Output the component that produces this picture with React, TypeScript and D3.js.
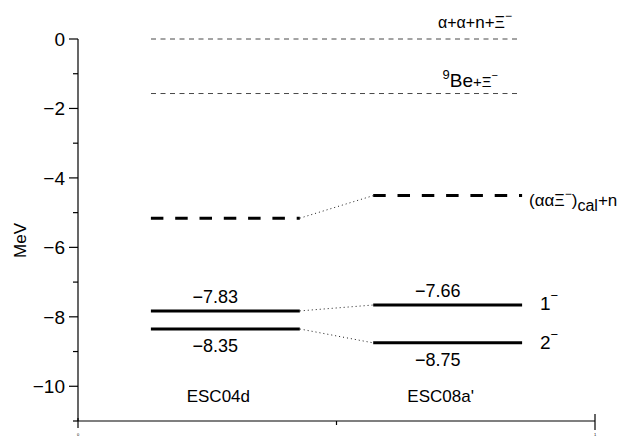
import React from "react";
import * as d3 from "d3";

const W = 623, H = 437;
const yTicks = [0, -2, -4, -6, -8, -10];
const yMinor = [-1, -3, -5, -7, -9, -11];
const models = ["ESC04d", "ESC08a'"];
const modelCenter = [0.285, 0.715];
const level1 = [-7.83, -7.66];
const level2 = [-8.35, -8.75];
const cluster = [-5.16, -4.51];
const thresholds = [0, -1.57];
const levelLabels1 = ["\u22127.83", "\u22127.66"];
const levelLabels2 = ["\u22128.35", "\u22128.75"];

export default function App() {
  const x = d3.scaleLinear().domain([0, 1]).range([78, 595]);
  const y = d3.scaleLinear().domain([-11, 0]).range([421, 39]);
  const half = 0.144;
  const font = "'Liberation Sans', Arial, sans-serif";
  const xs = (i: number) => x(modelCenter[i] - half);
  const xe = (i: number) => x(modelCenter[i] + half);
  return (
    <svg width={W} height={H} style={{ position: "absolute", left: 0, top: 0 }} fontFamily={font}>
      <rect width={W} height={H} fill="white" />
      {/* y axis */}
      <line x1={78} x2={78} y1={y(0)} y2={y(-11)} stroke="black" strokeWidth={1.2} />
      {yTicks.map((t) => (
        <g key={t}>
          <line x1={69} x2={78} y1={y(t)} y2={y(t)} stroke="black" strokeWidth={1.2} />
          <text x={65} y={y(t) + 7} fontSize={19} textAnchor="end">
            {t === 0 ? "0" : "\u2212" + Math.abs(t)}
          </text>
        </g>
      ))}
      {yMinor.map((t) => (
        <line key={t} x1={73} x2={78} y1={y(t)} y2={y(t)} stroke="black" strokeWidth={1.2} />
      ))}
      <text transform={`translate(26,${y(-5.8)}) rotate(-90)`} fontSize={17} textAnchor="middle">MeV</text>
      {/* x axis */}
      <line x1={x(0)} x2={x(1)} y1={421} y2={421} stroke="black" strokeWidth={1.2} />
      <line x1={x(0)} x2={x(0)} y1={418} y2={428} stroke="black" strokeWidth={1.2} />
      <line x1={x(0.5)} x2={x(0.5)} y1={421} y2={425} stroke="black" strokeWidth={1.2} />
      <line x1={x(1)} x2={x(1)} y1={414} y2={430} stroke="black" strokeWidth={1.2} />
      <text x={x(0)} y={436} fontSize={4} textAnchor="middle">0</text>
      <text x={x(1)} y={436} fontSize={4} textAnchor="middle">1</text>
      {/* thresholds */}
      {thresholds.map((t) => (
        <line key={t} x1={151} x2={518} y1={y(t)} y2={y(t)} stroke="#333" strokeWidth={0.9} strokeDasharray="5,4.5" />
      ))}
      <text x={512} y={28} fontSize={17} textAnchor="end">
        <tspan fontSize={16}>α+α+</tspan>n+<tspan fontSize={16}>Ξ</tspan>
        <tspan fontSize={12} dy={-8}>−</tspan>
      </text>
      <text x={498} y={87} fontSize={19} textAnchor="end">
        <tspan fontSize={13} dy={-8}>9</tspan>
        <tspan dy={8}>Be</tspan>
        <tspan fontSize={15}>+Ξ</tspan>
        <tspan fontSize={11} dy={-8}>−</tspan>
      </text>
      {/* cluster dashed */}
      {[0, 1].map((i) => (
        <line key={"c" + i} x1={xs(i)} x2={xe(i)} y1={y(cluster[i])} y2={y(cluster[i])} stroke="black" strokeWidth={3} strokeDasharray="12.5,11.8" />
      ))}
      <line x1={xe(0)} x2={xs(1)} y1={y(cluster[0])} y2={y(cluster[1])} stroke="black" strokeWidth={0.9} strokeDasharray="1,3" />
      <text x={529} y={206} fontSize={17}>
        (αα<tspan fontSize={16}>Ξ</tspan>
        <tspan fontSize={12} dy={-8}>−</tspan>
        <tspan dy={8}>)</tspan>
        <tspan fontSize={16} dy={5}>cal</tspan>
        <tspan dy={-5}>+n</tspan>
      </text>
      {/* levels */}
      {[0, 1].map((i) => (
        <g key={"l" + i}>
          <line x1={xs(i)} x2={xe(i)} y1={y(level1[i])} y2={y(level1[i])} stroke="black" strokeWidth={3} />
          <line x1={xs(i)} x2={xe(i)} y1={y(level2[i])} y2={y(level2[i])} stroke="black" strokeWidth={3} />
          <text x={(xs(i) + xe(i)) / 2 - 10} y={y(level1[i]) - 8} fontSize={18} textAnchor="middle">{levelLabels1[i]}</text>
          <text x={(xs(i) + xe(i)) / 2 - 10} y={y(level2[i]) + 23} fontSize={18} textAnchor="middle">{levelLabels2[i]}</text>
          <text x={(xs(i) + xe(i)) / 2 - 7} y={402} fontSize={17} textAnchor="middle">{models[i]}</text>
        </g>
      ))}
      <line x1={xe(0)} x2={xs(1)} y1={y(level1[0])} y2={y(level1[1])} stroke="black" strokeWidth={0.9} strokeDasharray="1,3" />
      <line x1={xe(0)} x2={xs(1)} y1={y(level2[0])} y2={y(level2[1])} stroke="black" strokeWidth={0.9} strokeDasharray="1,3" />
      <text x={540} y={310} fontSize={19}>1<tspan fontSize={13} dy={-10}>−</tspan></text>
      <text x={540} y={349} fontSize={19}>2<tspan fontSize={13} dy={-10}>−</tspan></text>
    </svg>
  );
}
